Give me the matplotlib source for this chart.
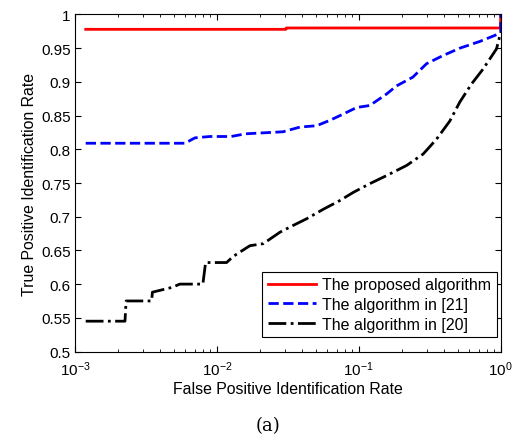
import matplotlib.pyplot as plt

plt.rcParams['font.family'] = ['Liberation Sans', 'DejaVu Sans']

fpr_prop = [1.19e-3, 0.0306, 0.0308, 0.995, 1.0]
tpr_prop = [0.978, 0.978, 0.980, 0.980, 1.0]

fpr_21 = [1.19e-3, 5.96e-3, 7.0e-3, 8.91e-3, 0.0126, 0.0159, 0.0292, 0.0385,
          0.0504, 0.0625, 0.0771, 0.0964, 0.1194, 0.1567, 0.1841, 0.2399,
          0.2999, 0.3908, 0.514, 0.7112, 0.933, 1.0, 1.0]
tpr_21 = [0.809, 0.809, 0.817, 0.819, 0.819, 0.823, 0.826, 0.833,
          0.835, 0.843, 0.852, 0.862, 0.865, 0.882, 0.894, 0.907,
          0.927, 0.939, 0.950, 0.960, 0.970, 0.975, 1.0]

fpr_20 = [1.19e-3, 2.25e-3, 2.29e-3, 3.47e-3, 3.51e-3, 4.8e-3, 5.48e-3,
          7.96e-3, 8.32e-3, 0.0117, 0.013, 0.0165, 0.0171, 0.0212, 0.0278,
          0.0344, 0.0429, 0.0561, 0.0735, 0.0912, 0.1194, 0.1567, 0.2168,
          0.2838, 0.3524, 0.4375, 0.514, 0.6223, 0.7499, 0.933, 1.0]
tpr_20 = [0.545, 0.545, 0.575, 0.575, 0.588, 0.595, 0.600,
          0.600, 0.632, 0.632, 0.641, 0.655, 0.657, 0.660, 0.677,
          0.687, 0.697, 0.711, 0.724, 0.736, 0.749, 0.761, 0.776,
          0.793, 0.815, 0.842, 0.870, 0.897, 0.919, 0.949, 0.974]

labels = ['The proposed algorithm', 'The algorithm in [21]', 'The algorithm in [20]']

fig = plt.figure(figsize=(5.13, 4.39), dpi=100)
ax = fig.add_axes([0.1462, 0.197, 0.830, 0.7677])

ax.plot(fpr_prop, tpr_prop, 'r-', lw=2, label=labels[0])
ax.plot(fpr_21, tpr_21, 'b--', lw=2, label=labels[1])
ax.plot(fpr_20, tpr_20, 'k-.', lw=2, label=labels[2])

ax.set_xscale('log')
ax.set_xlim(1e-3, 1)
ax.set_ylim(0.5, 1)
ax.set_yticks([0.5, 0.55, 0.6, 0.65, 0.7, 0.75, 0.8, 0.85, 0.9, 0.95, 1])
ax.set_yticklabels(['0.5', '0.55', '0.6', '0.65', '0.7', '0.75', '0.8',
                    '0.85', '0.9', '0.95', '1'])
ax.tick_params(which='both', direction='in', top=True, right=True, labelsize=11)
ax.tick_params(which='major', length=4)
ax.tick_params(which='minor', length=2)
ax.tick_params(axis='x', which='major', pad=6)
ax.tick_params(axis='y', which='major', pad=3)
ax.set_xlabel('False Positive Identification Rate', fontsize=11.4, labelpad=2)
ax.set_ylabel('True Positive Identification Rate', fontsize=11.4, labelpad=3)

leg = ax.legend(loc='lower right', bbox_to_anchor=(0.990, 0.042), borderaxespad=0,
                fontsize=11.5, fancybox=False, edgecolor='k', framealpha=1,
                handlelength=3.0, handletextpad=0.4, labelspacing=0.3,
                borderpad=0.35)
leg.get_frame().set_linewidth(0.8)

fig.text(0.523, 0.018, '(a)', family='DejaVu Serif', fontsize=13, ha='center',
         va='baseline')

fig.savefig('out.png', dpi=100)
